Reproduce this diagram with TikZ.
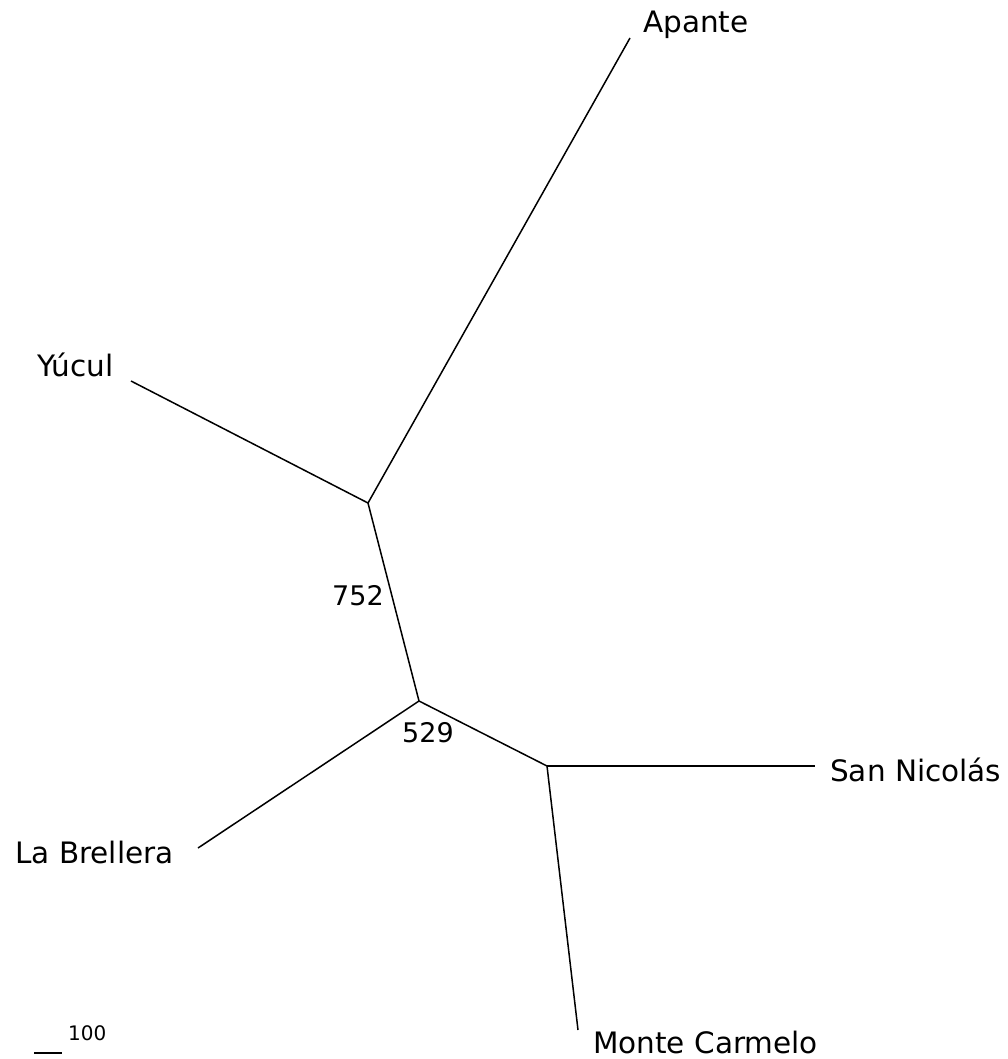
\documentclass[tikz,border=0pt]{standalone}
\usepackage{fontspec}
\setmainfont{DejaVu Sans}
\begin{document}
\begin{tikzpicture}[x=1pt,y=-1pt,
  branch/.style={line width=1.5pt,black},
  taxon/.style={anchor=base west,inner sep=0pt,font=\fontsize{29.5}{31}\selectfont},
  support/.style={anchor=base west,inner sep=0pt,font=\fontsize{27}{29}\selectfont},
  scalelab/.style={anchor=base west,inner sep=0pt,font=\fontsize{20}{22}\selectfont}]
\useasboundingbox[fill=white] (0,0) rectangle (1008,1059);
% internal nodes
\coordinate (n1) at (368,503);
\coordinate (n2) at (419,701);
\coordinate (n3) at (547,766);
% leaf ends
\coordinate (eApante) at (630,38);
\coordinate (eYucul) at (131,381);
\coordinate (eBrellera) at (198,848);
\coordinate (eNicolas) at (815,766);
\coordinate (eCarmelo) at (578,1030);
% labels
\node[taxon] (lApante) at (643,33) {Apante};
\node[taxon] (lYucul) at (37,376) {Yúcul};
\node[taxon] (lNicolas) at (830,781) {San Nicolás};
\node[taxon] (lBrellera) at (15,863) {La Brellera};
\node[taxon] (lCarmelo) at (593,1053) {Monte Carmelo};
\node[support] (s752) at (332,605) {752};
\node[support] (s529) at (402,742) {529};
% branches
\draw[branch] (n1) -- (eApante);
\draw[branch] (n1) -- (eYucul);
\draw[branch] (n1) -- (n2);
\draw[branch] (n2) -- (eBrellera);
\draw[branch] (n2) -- (n3);
\draw[branch] (n3) -- (eNicolas);
\draw[branch] (n3) -- (eCarmelo);
% scale bar
\coordinate (sb1) at (34,1053);
\coordinate (sb2) at (62,1053);
\draw[branch] (sb1) -- (sb2);
\node[scalelab] (s100) at (68,1040) {100};
\end{tikzpicture}
\end{document}
